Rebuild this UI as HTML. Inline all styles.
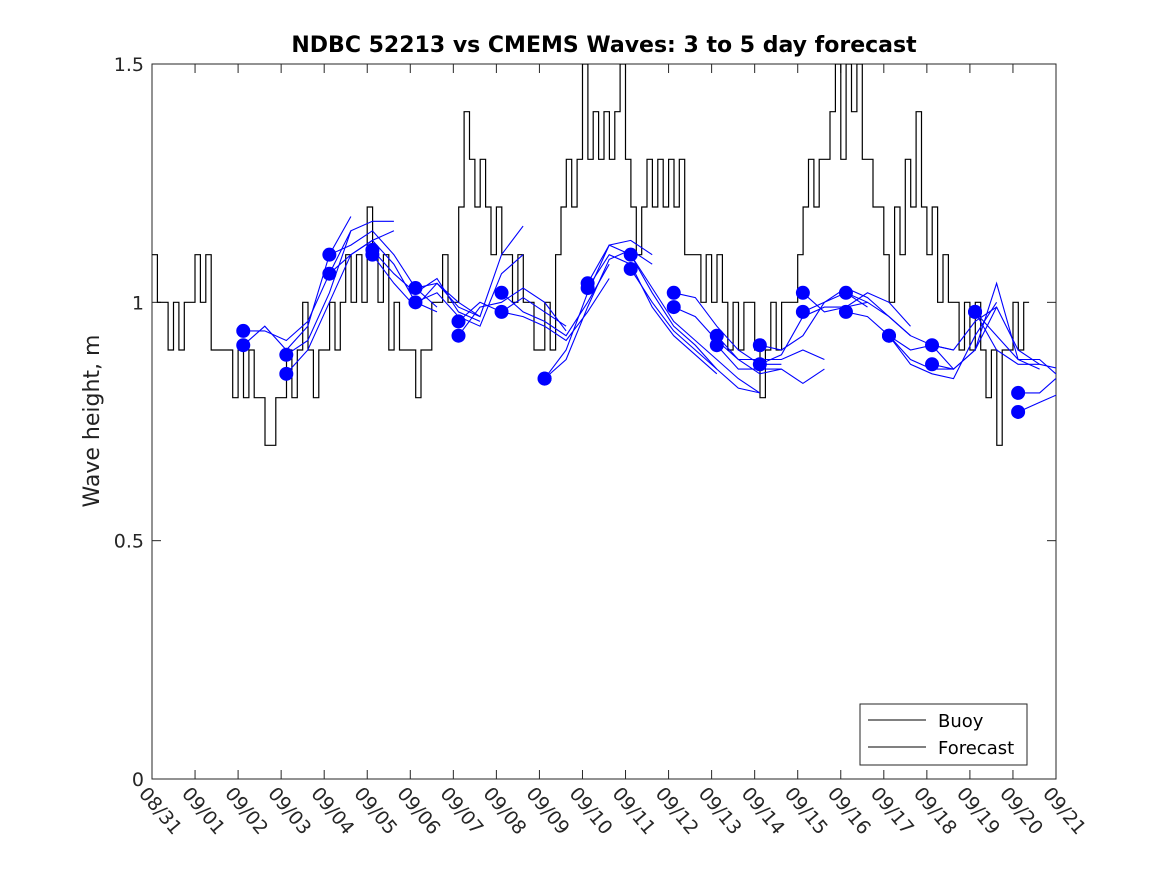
<!DOCTYPE html>
<html><head><meta charset="utf-8"><style>
body{margin:0;background:#fff}
svg{display:block;font-family:"DejaVu Sans","Liberation Sans",sans-serif}
</style></head><body>
<svg id="chart" width="1167" height="875" viewBox="0 0 1167 875">
<rect x="0" y="0" width="1167" height="875" fill="#fff"/>
<defs><clipPath id="pc"><rect x="152" y="64" width="904" height="715"/></clipPath></defs>
<text x="604" y="52" text-anchor="middle" font-size="22" font-weight="bold">NDBC 52213 vs CMEMS Waves: 3 to 5 day forecast</text>
<text transform="translate(99,421) rotate(-90)" text-anchor="middle" font-size="22" fill="#222">Wave height, m</text>
<g id="axes"></g>
<g id="buoy" clip-path="url(#pc)"></g>
<g id="fc" clip-path="url(#pc)"></g>
<g id="legend"></g>
</svg>
<script>
const xTickLabels=["08/31","09/01","09/02","09/03","09/04","09/05","09/06","09/07","09/08","09/09","09/10","09/11","09/12","09/13","09/14","09/15","09/16","09/17","09/18","09/19","09/20","09/21"];
const yTicks=[0,0.5,1,1.5];
const yTickLabels=["0","0.5","1","1.5"];
const buoyStepDays=0.125;
const buoyValues=[
1.1,1.0,1.0,0.9,1.0,0.9,1.0,1.0,
1.1,1.0,1.1,0.9,0.9,0.9,0.9,0.8,
0.9,0.8,0.9,0.8,0.8,0.7,0.7,0.8,
0.8,0.9,0.8,0.9,1.0,0.9,0.8,0.9,
0.9,1.0,0.9,1.0,1.1,1.0,1.1,1.0,
1.2,1.1,1.0,1.1,0.9,1.0,0.9,0.9,
0.9,0.8,0.9,0.9,1.0,1.0,1.1,1.0,
1.0,1.2,1.4,1.3,1.2,1.3,1.2,1.1,
1.2,1.1,1.1,1.0,1.1,1.0,1.0,0.9,
0.9,1.0,0.9,1.1,1.2,1.3,1.2,1.3,
1.5,1.3,1.4,1.3,1.4,1.3,1.4,1.5,
1.3,1.2,1.1,1.2,1.3,1.2,1.3,1.2,
1.3,1.2,1.3,1.1,1.1,1.1,1.0,1.1,
1.0,1.1,1.0,0.9,1.0,0.9,1.0,1.0,
0.9,0.8,0.9,1.0,0.9,1.0,1.0,1.0,
1.1,1.2,1.3,1.2,1.3,1.3,1.4,1.5,
1.3,1.5,1.4,1.5,1.3,1.3,1.2,1.2,
1.1,1.0,1.2,1.1,1.3,1.2,1.4,1.2,
1.1,1.2,1.0,1.1,1.0,1.0,0.9,1.0,
0.9,1.0,0.9,0.8,0.9,0.7,0.9,0.9,
1.0,0.9,1.0];
const fcStepDays=0.5;
const fcStartDays=[2.12,2.12,3.12,3.12,4.12,4.12,5.12,5.12,6.12,6.12,7.12,7.12,8.12,8.12,9.12,9.12,10.12,10.12,11.12,11.12,12.12,12.12,13.12,13.12,14.12,14.12,15.12,15.12,16.12,16.12,17.12,17.12,18.12,18.12,19.12,19.12,20.12,20.12];
const fcValues=[
[0.94,0.94,0.92,0.96,1.06,1.15],
[0.91,0.95,0.90,0.95,1.10,1.18],
[0.89,0.92,1.02,1.15,1.17,1.17],
[0.85,0.90,1.00,1.10,1.13,1.15],
[1.10,1.12,1.15,1.10,1.03,0.99],
[1.06,1.10,1.13,1.08,1.00,0.98],
[1.11,1.06,1.02,1.05,0.98,0.96],
[1.10,1.04,0.99,1.04,1.00,0.97],
[1.03,1.04,0.99,0.97,1.10,1.16],
[1.00,1.02,0.97,0.95,1.06,1.10],
[0.96,1.00,0.98,1.01,0.98,0.95],
[0.93,0.99,1.00,1.03,1.00,0.94],
[1.02,0.98,0.96,0.93,1.00,1.08],
[0.98,0.97,0.95,0.92,0.98,1.05],
[0.84,0.90,1.02,1.12,1.13,1.10],
[0.84,0.88,0.99,1.09,1.11,1.08],
[1.04,1.12,1.10,1.02,0.95,0.91,0.86],
[1.03,1.10,1.08,0.99,0.93,0.89,0.85],
[1.10,1.03,0.96,0.92,0.88,0.84,0.81],
[1.07,1.00,0.94,0.90,0.86,0.82,0.81],
[1.02,1.01,0.95,0.90,0.87,0.87],
[0.99,0.97,0.92,0.88,0.85,0.86],
[0.93,0.88,0.88,0.88,0.90,0.88],
[0.91,0.86,0.86,0.86,0.83,0.86],
[0.91,0.90,0.93,1.00,1.02,0.99],
[0.87,0.89,0.97,0.99,0.99,1.00],
[1.02,0.98,0.99,1.02,1.00,0.95],
[0.98,1.00,1.03,1.01,0.97,0.93],
[1.02,1.00,0.97,0.93,0.91,0.90],
[0.98,0.97,0.93,0.88,0.86,0.86],
[0.93,0.90,0.91,0.86,0.90,0.99],
[0.93,0.87,0.85,0.84,0.93,1.00],
[0.91,0.90,0.96,0.99,0.90,0.87],
[0.87,0.86,0.90,1.04,0.88,0.86],
[0.98,0.93,0.88,0.88,0.84,0.84,0.86],
[0.98,0.90,0.87,0.87,0.86,0.86],
[0.81,0.81,0.85,0.88,0.90],
[0.77,0.79,0.81,0.84]];

const NS="http://www.w3.org/2000/svg";
const L=152,R=1056,T=64,B=779,D0=0,D1=21,Y0=0,Y1=1.5;
const xs=d=>L+(d-D0)/(D1-D0)*(R-L);
const ys=v=>B-(v-Y0)/(Y1-Y0)*(B-T);
function mk(tag,attrs,parent){const e=document.createElementNS(NS,tag);for(const k in attrs)e.setAttribute(k,attrs[k]);parent.appendChild(e);return e;}
const axes=document.getElementById('axes');
const frame=mk('rect',{x:L,y:T,width:R-L,height:B-T,fill:'none',stroke:'#262626','stroke-width':1},axes);


xTickLabels.forEach((lab,i)=>{
  const x=xs(i);
  const t1=mk('line',{x1:x,y1:B,x2:x,y2:B-9,stroke:'#262626'},axes);
  
  
  const t2=mk('line',{x1:x,y1:T,x2:x,y2:T+9,stroke:'#262626'},axes);
  
  
  const tx=mk('text',{transform:`translate(${x-14},${794}) rotate(50)`,'font-size':19,fill:'#262626'},axes);
  tx.textContent=lab;
  
  
});
yTicks.forEach((v,i)=>{
  const y=ys(v);
  const t1=mk('line',{x1:L,y1:y,x2:L+9,y2:y,stroke:'#262626'},axes);
  
  
  const t2=mk('line',{x1:R,y1:y,x2:R-9,y2:y,stroke:'#262626'},axes);
  
  
  const tx=mk('text',{x:L-8,y:y+7,'text-anchor':'end','font-size':19,fill:'#262626'},axes);
  tx.textContent=yTickLabels[i];
  
  
});
let p='';
buoyValues.forEach((v,i)=>{const x0=xs(i*buoyStepDays),x1=xs((i+1)*buoyStepDays);p+=(i?'L':'M')+x0.toFixed(1)+' '+ys(v).toFixed(1)+'L'+x1.toFixed(1)+' '+ys(v).toFixed(1);});
const bl=mk('path',{d:p,fill:'none',stroke:'#000','stroke-width':1.2},document.getElementById('buoy'));


const fc=document.getElementById('fc');
fcValues.forEach((arr,k)=>{
  const pts=arr.map((v,i)=>xs(fcStartDays[k]+i*fcStepDays).toFixed(1)+','+ys(v).toFixed(1)).join(' ');
  const pl=mk('polyline',{points:pts,fill:'none',stroke:'#0000ff','stroke-width':1.1},fc);
  
  
});
fcValues.forEach((arr,k)=>{
  const c=mk('circle',{cx:xs(fcStartDays[k]),cy:ys(arr[0]),r:7,fill:'#0000ff'},fc);
  
  
});
const lg=document.getElementById('legend');
const lb=mk('rect',{x:860,y:704,width:167,height:61,fill:'#fff',stroke:'#262626'},lg);


[['Buoy',720,'#000'],['Forecast',747,'#000']].forEach(([name,y,c])=>{
  const ln=mk('line',{x1:868,y1:y,x2:926,y2:y,stroke:c},lg);
  
  
  const t=mk('text',{x:938,y:y+7,'font-size':18,fill:'#000'},lg);
  t.textContent=name;
  
  
});
</script>
</body></html>
